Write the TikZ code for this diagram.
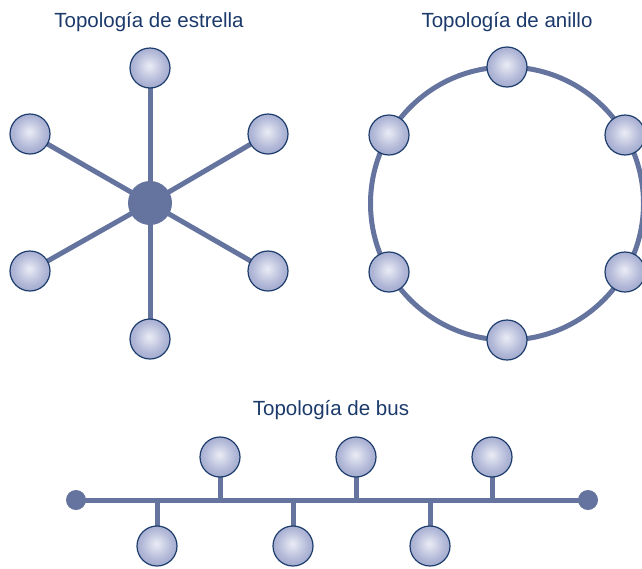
\documentclass[tikz,border=0pt]{standalone}
\usepackage{fontspec}
\setmainfont{Liberation Sans}
\usetikzlibrary{backgrounds}
\definecolor{linec}{HTML}{64749F}
\definecolor{navy}{HTML}{1C3C6C}
\definecolor{ballin}{HTML}{EAECF5}
\definecolor{ballmid}{HTML}{AFB6D6}
\definecolor{ballout}{HTML}{8A93BD}
\definecolor{titlec}{HTML}{1B3A6B}
\pgfdeclareradialshading{ballsh}{\pgfpoint{-1bp}{3bp}}{color(0bp)=(ballin); color(20bp)=(ballmid); color(40bp)=(ballout); color(50bp)=(ballout)}
\tikzset{
  pc/.style={circle, minimum size=40pt, inner sep=0pt, draw=navy, line width=1.2pt, shading=ballsh},
  hub/.style={circle, minimum size=44pt, inner sep=0pt, fill=linec},
  busend/.style={circle, minimum size=20pt, inner sep=0pt, fill=linec},
  link/.style={draw=linec, line width=5pt},
  title/.style={text=titlec, font=\fontsize{20.5}{24}\selectfont, anchor=base, inner sep=0pt}
}
\begin{document}
\begin{tikzpicture}[x=1pt,y=-1pt]
\useasboundingbox (0,0) rectangle (642,568);
% titles
\node[title] (t1) at (149,27.5) {Topología de estrella};
\node[title] (t2) at (507,27.5) {Topología de anillo};
\node[title] (t3) at (331,415.5) {Topología de bus};
% star
\node[hub] (hub) at (150,203) {};
\node[pc] (s1) at (150,68) {};
\node[pc] (s2) at (268,134) {};
\node[pc] (s3) at (268,271) {};
\node[pc] (s4) at (150,339) {};
\node[pc] (s5) at (30,271) {};
\node[pc] (s6) at (30,134) {};
% ring
\coordinate (rc) at (507,203.5);
\node[pc] (r1) at (507,67) {};
\node[pc] (r2) at (625,135) {};
\node[pc] (r3) at (625,272) {};
\node[pc] (r4) at (507,340) {};
\node[pc] (r5) at (389,272) {};
\node[pc] (r6) at (389,135) {};
% bus
\node[busend] (bl) at (76,500) {};
\node[busend] (br) at (588,500) {};
\node[pc] (u1) at (220,457) {};
\node[pc] (u2) at (356,457) {};
\node[pc] (u3) at (492,457) {};
\node[pc] (d1) at (157,546) {};
\node[pc] (d2) at (293,546) {};
\node[pc] (d3) at (430,546) {};
\coordinate (tu1) at (220,500);
\coordinate (tu2) at (356,500);
\coordinate (tu3) at (492,500);
\coordinate (td1) at (157,500);
\coordinate (td2) at (293,500);
\coordinate (td3) at (430,500);
\begin{pgfonlayer}{background}
\foreach \n in {s1,s2,s3,s4,s5,s6} \draw[link] (hub.center) -- (\n.center);
\draw[link] (rc) circle[radius=136.5];
\draw[link] (bl.center) -- (br.center);
\foreach \n in {u1,u2,u3,d1,d2,d3} \draw[link] (\n.center) -- (t\n);
\end{pgfonlayer}
\end{tikzpicture}
\end{document}
